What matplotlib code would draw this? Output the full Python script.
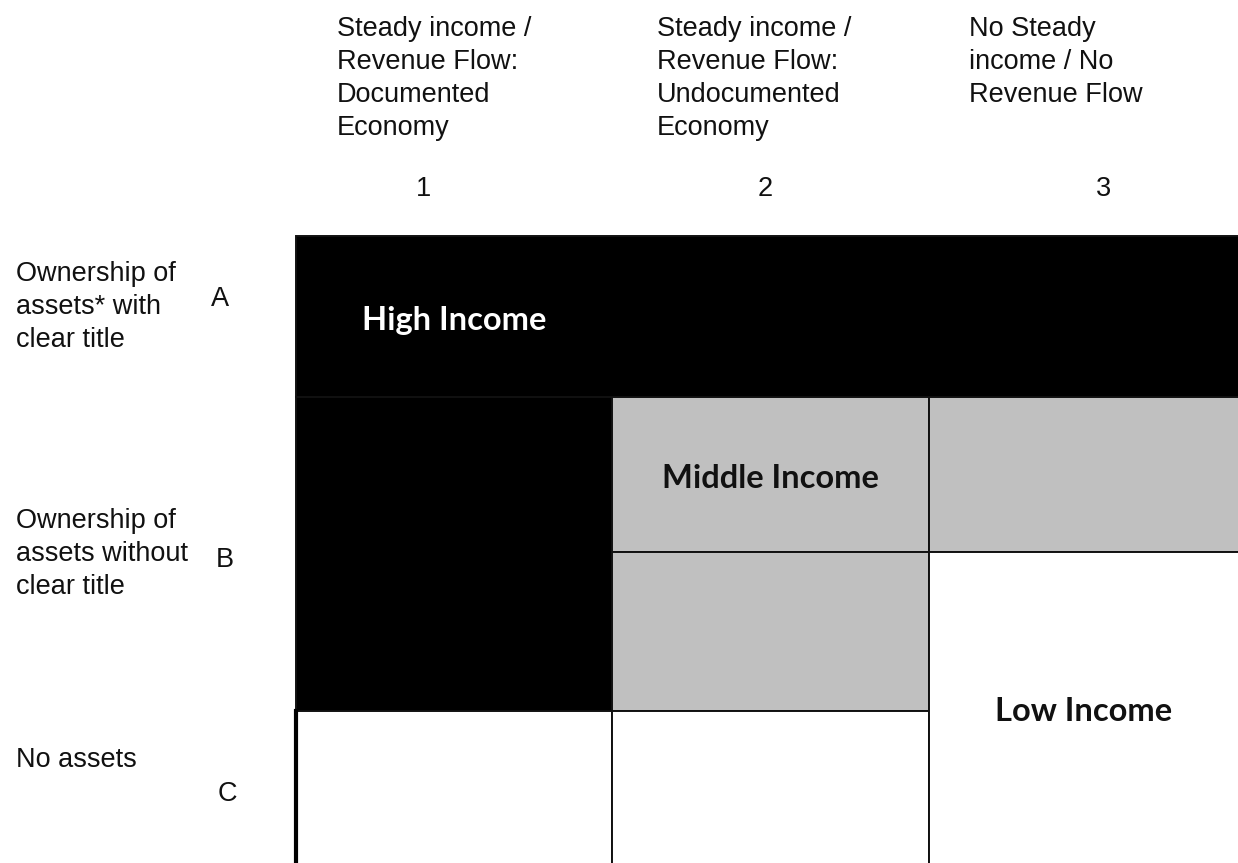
import matplotlib.pyplot as plt
from matplotlib.patches import Rectangle

# column headers (top) and their numbers
col_headers = [
    ['Steady income /', 'Revenue Flow:', 'Documented', 'Economy'],
    ['Steady income /', 'Revenue Flow:', 'Undocumented', 'Economy'],
    ['No Steady', 'income / No', 'Revenue Flow'],
]
col_numbers = ['1', '2', '3']

# row headers (left) and their letters
row_labels = [
    ['Ownership of', 'assets* with', 'clear title'],
    ['Ownership of', 'assets without', 'clear title'],
    ['No assets'],
]
row_letters = ['A', 'B', 'C']

# income groups: name, fill, text colour
groups = ['High Income', 'Middle Income', 'Low Income']
group_fill = {'High Income': 'black', 'Middle Income': '#c0c0c0', 'Low Income': 'white'}
group_text = {'High Income': 'white', 'Middle Income': '#111111', 'Low Income': '#111111'}

# cells of the matrix: (group, first sub-row, last sub-row, first col, last col)
cells = [
    ('High Income', 0, 0, 0, 2),
    ('High Income', 1, 2, 0, 0),
    ('Middle Income', 1, 1, 1, 1),
    ('Middle Income', 1, 1, 2, 2),
    ('Middle Income', 2, 2, 1, 1),
    ('Low Income', 3, 3, 0, 0),
    ('Low Income', 3, 3, 1, 1),
    ('Low Income', 2, 3, 2, 2),
]
# grid block that carries the group name: (first sub-row, last sub-row, col)
label_block = {'High Income': (0, 0, 0), 'Middle Income': (1, 1, 1), 'Low Income': (2, 3, 2)}

# layout (pixels of the 1238x863 canvas)
W, H = 1238, 863
col_edges = [296, 612, 929, W + 4]
row_edges = [236, 397, 552, 711, H + 4]
header_x = [337, 657, 969]
header_base = 36
line_step = 33
number_x = [424, 765, 1104]
number_y = 189
label_x = 16
label_base = [281, 528, 767]
letter_x = [220, 225, 227]
letter_y = [299, 560, 794]
label_dy = 4

fig = plt.figure(figsize=(W / 100, H / 100), dpi=100)
ax = fig.add_axes([0, 0, 1, 1])
ax.set_xlim(0, W)
ax.set_ylim(H, 0)
ax.axis('off')

plain = dict(family=['Liberation Sans', 'DejaVu Sans'], fontsize=19.5, color='#111111')
bold = dict(family=['Lato', 'DejaVu Sans'], fontweight='bold', fontsize=23.5)

for name, r0, r1, c0, c1 in cells:
    x0, x1 = col_edges[c0], col_edges[c1 + 1]
    y0, y1 = row_edges[r0], row_edges[r1 + 1]
    ax.add_patch(Rectangle((x0, y0), x1 - x0, y1 - y0, facecolor=group_fill[name],
                           edgecolor='#111111', linewidth=1.4))

for name in groups:
    r0, r1, c = label_block[name]
    cx = (col_edges[c] + min(col_edges[c + 1], W)) / 2
    cy = (row_edges[r0] + min(row_edges[r1 + 1], H)) / 2 + label_dy
    ax.text(cx, cy, name, ha='center', va='center', color=group_text[name], **bold)

# thick left border of the bottom row
ax.plot([col_edges[0], col_edges[0]], [row_edges[3], H], color='black', linewidth=3)

for i, lines in enumerate(col_headers):
    for j, line in enumerate(lines):
        ax.text(header_x[i], header_base + j * line_step, line, ha='left', va='baseline', **plain)
    ax.text(number_x[i], number_y, col_numbers[i], ha='center', va='center', **plain)

for i, lines in enumerate(row_labels):
    for j, line in enumerate(lines):
        ax.text(label_x, label_base[i] + j * line_step, line, ha='left', va='baseline', **plain)
    ax.text(letter_x[i], letter_y[i], row_letters[i], ha='center', va='center', **plain)

fig.savefig('out.png', dpi=100, facecolor='white')
